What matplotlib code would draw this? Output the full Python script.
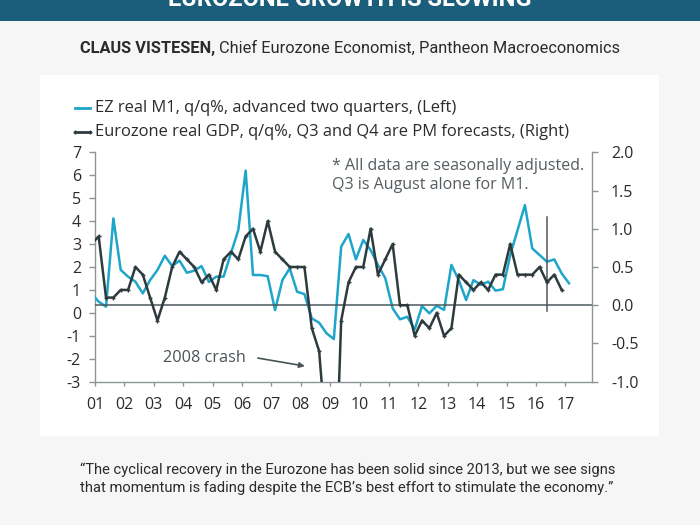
import numpy as np
import matplotlib
matplotlib.use("Agg")
import matplotlib.pyplot as plt
from matplotlib.patches import Rectangle
from matplotlib.lines import Line2D

plt.rcParams["axes.unicode_minus"] = False

# quarterly data, plotted at mid-quarter
# Eurozone real GDP q/q% (right axis), 2000Q4 .. 2016Q4
gdp = [0.8,
       0.9, 0.1, 0.1, 0.2,
       0.2, 0.5, 0.4, 0.1,
       -0.2, 0.1, 0.5, 0.7,
       0.6, 0.5, 0.3, 0.4,
       0.2, 0.6, 0.7, 0.6,
       0.9, 1.0, 0.7, 1.1,
       0.7, 0.6, 0.5, 0.5,
       0.5, -0.3, -0.6, -1.8,
       -3.0, -0.2, 0.3, 0.5,
       0.5, 1.0, 0.4, 0.6,
       0.8, 0.0, 0.0, -0.4,
       -0.2, -0.3, -0.1, -0.4,
       -0.3, 0.4, 0.3, 0.2,
       0.3, 0.2, 0.4, 0.4,
       0.8, 0.4, 0.4, 0.4,
       0.5, 0.3, 0.4, 0.2]

# EZ real M1 q/q%, advanced two quarters (left axis), 2000Q4 .. 2017Q1
m1 = [0.85,
      0.49, 0.27, 4.12, 1.87,
      1.58, 1.36, 0.85, 1.43,
      1.87, 2.49, 2.04, 2.28,
      1.75, 1.84, 2.04, 1.35,
      1.58, 1.58, 2.60, 3.61,
      6.20, 1.65, 1.65, 1.60,
      0.12, 1.43, 1.94, 0.92,
      0.82, -0.24, -0.43, -0.89,
      -1.14, 2.89, 3.44, 2.33,
      3.18, 2.74, 2.09, 1.51,
      0.20, -0.28, -0.17, -0.72,
      0.30, -0.02, 0.31, 0.13,
      2.09, 1.43, 0.56, 1.43,
      1.22, 1.36, 0.97, 1.03,
      2.52, 3.61, 4.70, 2.81,
      2.52, 2.23, 2.33, 1.72,
      1.29]

start = 2000.875
gdp_x = start + 0.25 * np.arange(len(gdp))
m1_x = start + 0.25 * np.arange(len(m1))

year_ticks = list(range(2001, 2018))
year_labels = [f"{y % 100:02d}" for y in year_ticks]

forecast_x = 2016.375

CYAN = "#1ea5ca"
DARK = "#2e3b3e"
AXIS = "#8c9598"
TXT = "#2b2b2b"
chart_font = "Open Sans"

W, H = 700, 525


def fx(px):
    return px / W


def fy(py):
    return 1 - py / H


fig = plt.figure(figsize=(7, 5.25), dpi=100)
fig.patch.set_facecolor("#f6f6f6")

# banner and white panel
fig.add_artist(Rectangle((0, fy(21)), 1, 21 / H, transform=fig.transFigure,
                         facecolor="#1b5e7b", edgecolor="none", zorder=0))
fig.add_artist(Rectangle((fx(40), fy(436)), 619 / W, 361 / H, transform=fig.transFigure,
                         facecolor="white", edgecolor="none", zorder=0))
fig.text(0.5, fy(6), "EUROZONE GROWTH IS SLOWING", ha="center", va="baseline",
         color="white", fontsize=17, fontweight="bold", family="Roboto")

# byline: bold name followed by regular title, centred as one line
renderer = fig.canvas.get_renderer()
t_bold = fig.text(0, fy(48), "CLAUS VISTESEN, ", ha="left", va="center",
                  color=TXT, fontsize=11.8, fontweight="bold", family="Roboto")
t_reg = fig.text(0, fy(48), "Chief Eurozone Economist, Pantheon Macroeconomics",
                 ha="left", va="center", color=TXT, fontsize=11.8, family="Roboto")
wb = t_bold.get_window_extent(renderer).width
wr = t_reg.get_window_extent(renderer).width
x0 = (W - wb - wr) / 2
t_bold.set_x(fx(x0))
t_reg.set_x(fx(x0 + wb))

fig.text(fx(80), fy(470),
         "\u201cThe cyclical recovery in the Eurozone has been solid since 2013, but we see signs",
         ha="left", va="center", color=TXT, fontsize=10.6, family="Roboto")
fig.text(fx(80), fy(488),
         "that momentum is fading despite the ECB\u2019s best effort to stimulate the economy.\u201d",
         ha="left", va="center", color=TXT, fontsize=10.6, family="Roboto")

ax = fig.add_axes([fx(95), fy(381.7), (591.5 - 95) / W, (381.7 - 152.3) / H])
ax.set_facecolor("none")
ax2 = ax.twinx()

ax.plot(m1_x, m1, color=CYAN, lw=1.8, zorder=3)
ax2.plot(gdp_x, gdp, color=DARK, lw=1.8, marker="+", ms=3.5, mew=1, zorder=3)
ax2.axhline(0, color="#4d585b", lw=1.1, zorder=2)
ax2.plot([forecast_x, forecast_x], [-0.08, 1.16], color="#4d585b", lw=1.1)

ax.set_xlim(2001, 2017.89)
ax.set_ylim(-3, 7)
ax2.set_ylim(-1, 2)
ax.set_yticks(range(-3, 8))
right_ticks = [-1.0, -0.5, 0.0, 0.5, 1.0, 1.5, 2.0]
ax2.set_yticks(right_ticks)
ax2.set_yticklabels([f"{v:.1f}" for v in right_ticks])
ax.set_xticks(year_ticks)
ax.set_xticklabels(year_labels)

for a in (ax, ax2):
    for s in a.spines.values():
        s.set_color(AXIS)
        s.set_linewidth(1.0)
    a.spines["top"].set_visible(False)
    a.tick_params(colors=AXIS, labelcolor=TXT, length=4, width=1, labelsize=11.5)
    for lab in a.get_xticklabels() + a.get_yticklabels():
        lab.set_family(chart_font)
ax.spines["right"].set_visible(False)
ax2.spines["left"].set_visible(False)
ax2.spines["bottom"].set_visible(False)
ax.tick_params(axis="y", pad=6)
ax.tick_params(axis="x", pad=8, length=3)
ax2.tick_params(axis="y", pad=10)

ax.text(2003.3, -1.95, "2008 crash", ha="left", va="center", fontsize=11.7,
        color="#4a5457", family=chart_font)
ax.annotate("", xy=(2008.14, -2.32), xytext=(2006.54, -1.97),
            arrowprops=dict(arrowstyle="-|>", color="#4a5457", lw=1.2,
                            mutation_scale=8, shrinkA=0, shrinkB=0))

fig.text(fx(332), fy(166), "* All data are seasonally adjusted.",
         ha="left", va="center", fontsize=11.5, color="#555d60", family=chart_font)
fig.text(fx(332), fy(185), "Q3 is August alone for M1.",
         ha="left", va="center", fontsize=11.5, color="#555d60", family=chart_font)

# legend drawn by hand for exact placement
legend_items = [("EZ real M1, q/q%, advanced two quarters, (Left)", CYAN, None, 108),
                ("Eurozone real GDP, q/q%, Q3 and Q4 are PM forecasts, (Right)", DARK, "+", 132)]
for label, color, marker, py in legend_items:
    fig.add_artist(Line2D([fx(75), fx(90)], [fy(py), fy(py)], transform=fig.transFigure,
                          color=color, lw=2, marker=marker, ms=3.5, mew=1))
    fig.text(fx(95), fy(py), label, ha="left", va="center", fontsize=11.9,
             color=TXT, family=chart_font)

fig.savefig("out.png", dpi=100, facecolor=fig.get_facecolor())
